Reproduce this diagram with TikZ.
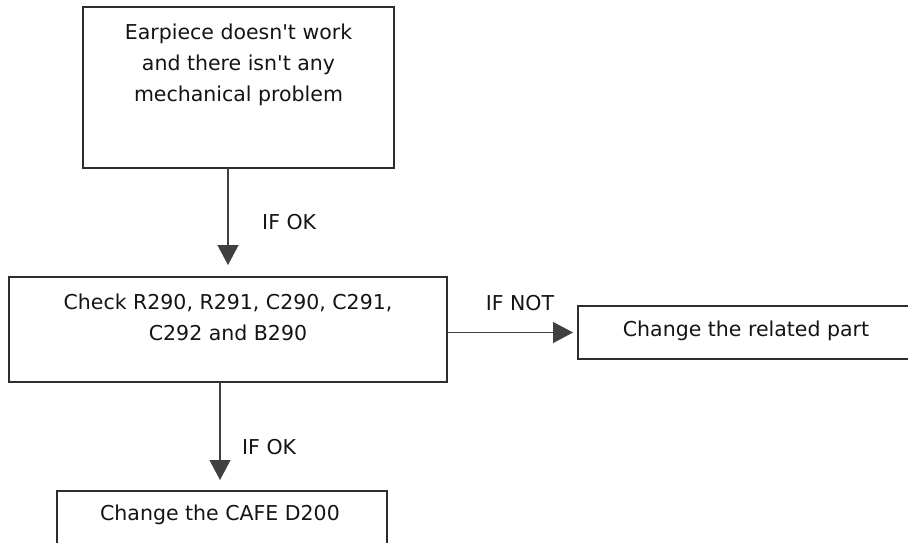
\documentclass[tikz,border=0pt]{standalone}
\usepackage{fontspec}
\setmainfont{DejaVu Sans}
\usetikzlibrary{arrows.meta}
\definecolor{framegray}{RGB}{45,45,45}
\definecolor{arrowgray}{RGB}{64,64,64}
\definecolor{inkcol}{RGB}{20,20,20}
\newcommand{\apos}{\textquotesingle}
\begin{document}
\begin{tikzpicture}[x=1pt,y=-1pt,
  box/.style={draw=framegray, line width=1.4pt, inner sep=0pt, outer sep=0pt},
  txt/.style={text=inkcol, align=center, inner sep=0pt,
              font=\fontsize{20.5}{31}\selectfont},
  lbl/.style={text=inkcol, inner sep=0pt, font=\fontsize{20.5}{24}\selectfont},
  flow/.style={draw=arrowgray, line width=1.4pt,
               -{Triangle[width=21pt,length=20pt]}}]
  \useasboundingbox (0,0) rectangle (908,542);
  \clip (0,0) rectangle (908,542);

  % boxes (the last two run past the page edge)
  \node[box, minimum width=360pt, minimum height=53pt]  (b3) at (758,332.5) {};
  \node[box, minimum width=311pt, minimum height=161pt] (b1) at (238.5,87.5) {};
  \node[box, minimum width=438pt, minimum height=105pt] (b2) at (228,329.5) {};
  \node[box, minimum width=330pt, minimum height=58pt]  (b4) at (222,520) {};

  % box texts
  \node[txt] (t1) at (238.5,65) {Earpiece doesn\apos t work\\and there isn\apos t any\\mechanical problem};
  \node[txt] (t2) at (228,317) {Check R290, R291, C290, C291,\\C292 and B290};
  \node[txt] (t3) at (746,331) {Change the related part};
  \node[txt] (t4) at (220,515) {Change the CAFE D200};

  % connectors
  \draw[flow, shorten >=12pt] (b1.south -| b2.north) -- (b2.north);
  \draw[flow, shorten >=5pt]  (b2.east |- b3.west) -- (b3.west);
  \draw[flow, shorten >=11pt] ([xshift=-2pt]b4.north |- b2.south) -- ([xshift=-2pt]b4.north);

  % connector labels
  \node[lbl, anchor=west] (l1) at (262,222) {IF OK};
  \node[lbl] (l2) at (520,303) {IF NOT};
  \node[lbl, anchor=west] (l3) at (242,447) {IF OK};
\end{tikzpicture}
\end{document}
